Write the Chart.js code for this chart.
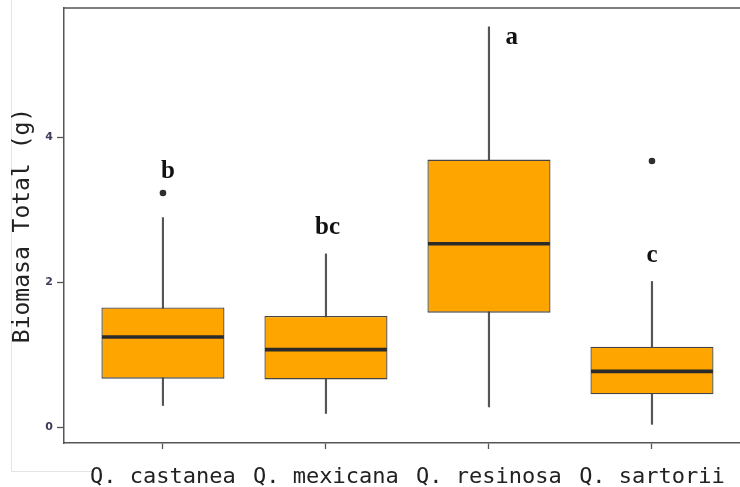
<!DOCTYPE html>
<html>
<head>
<meta charset="utf-8">
<script src="https://cdn.jsdelivr.net/npm/chart.js@4/dist/chart.umd.min.js"></script>
<style>
  html, body { margin: 0; padding: 0; background: #ffffff; overflow: hidden; }
  canvas { display: block; }
</style>
</head>
<body>
<canvas id="chart" width="740" height="487"></canvas>
<script>
// Species (x categories)
const categories = ['Q. castanea', 'Q. mexicana', 'Q. resinosa', 'Q. sartorii'];

// Five-number summaries of total biomass (g) per species
const whiskerLow  = [0.30, 0.19, 0.28, 0.04];
const quartile1   = [0.67, 0.66, 1.58, 0.455];
const medians     = [1.245, 1.07, 2.53, 0.77];
const quartile3   = [1.65, 1.535, 3.69, 1.11];
const whiskerHigh = [2.89, 2.39, 5.52, 2.01];

// Outlying observations: [species index (1-based), value]
const outlierSpecies = [1, 4];
const outlierValues  = [3.23, 3.67];

// Significance groups and where each letter sits (x in category units, y in g)
const groupLetters = ['b', 'bc', 'a', 'c'];
const letterX = [1.03, 2.01, 3.14, 4.0];
const letterY = [3.52, 2.76, 5.37, 2.37];

// Y-axis tick values
const yTicks = [0, 2, 4];

const positions = categories.map((_, i) => i + 1);

const whiskerData = positions.map((x, i) => ({ x, y: [whiskerLow[i], whiskerHigh[i]] }));
const boxData = positions.map((x, i) => ({ x, y: [quartile1[i], quartile3[i]] }));
const outlierData = outlierSpecies.map((s, i) => ({ x: s, y: outlierValues[i] }));

// Draws the panel's top rule, the medians and the group letters
const boxExtras = {
  id: 'boxExtras',
  beforeDraw(chart) {
    const { ctx } = chart;
    ctx.save();
    ctx.strokeStyle = '#e4e4e4';
    ctx.lineWidth = 1;
    ctx.beginPath();
    ctx.moveTo(11.5, 0);
    ctx.lineTo(11.5, 471.5);
    ctx.lineTo(92, 471.5);
    ctx.stroke();
    ctx.restore();
  },
  afterDatasetsDraw(chart) {
    const { ctx, chartArea, scales } = chart;
    const boxMeta = chart.getDatasetMeta(1);
    ctx.save();
    // medians
    ctx.strokeStyle = '#2b2b2b';
    ctx.lineWidth = 3.6;
    boxMeta.data.forEach((bar, i) => {
      const half = bar.width / 2;
      const y = scales.y.getPixelForValue(medians[i]);
      ctx.beginPath();
      ctx.moveTo(bar.x - half + 0.6, y);
      ctx.lineTo(bar.x + half - 0.6, y);
      ctx.stroke();
    });
    // letters
    ctx.fillStyle = '#111111';
    ctx.font = 'bold 25px "Liberation Serif", "Times New Roman", serif';
    ctx.textAlign = 'center';
    ctx.textBaseline = 'middle';
    groupLetters.forEach((t, i) => {
      ctx.fillText(t, scales.x.getPixelForValue(letterX[i]), scales.y.getPixelForValue(letterY[i]));
    });
    // top rule of the panel
    ctx.strokeStyle = '#555555';
    ctx.lineWidth = 1.5;
    ctx.beginPath();
    ctx.moveTo(chartArea.left, chartArea.top);
    ctx.lineTo(chartArea.right, chartArea.top);
    ctx.stroke();
    ctx.restore();
  }
};

new Chart(document.getElementById('chart'), {
  type: 'bar',
  data: {
    datasets: [
      {
        type: 'scatter',
        data: outlierData,
        pointRadius: 3.3,
        pointBackgroundColor: '#2e2e2e',
        pointBorderWidth: 0,
        order: 0
      },
      {
        data: boxData,
        backgroundColor: '#FFA500',
        borderColor: '#454545',
        borderWidth: 1.3,
        borderSkipped: false,
        grouped: false,
        categoryPercentage: 1,
        barPercentage: 0.755,
        order: 1
      },
      {
        data: whiskerData,
        backgroundColor: '#555555',
        borderWidth: 0,
        grouped: false,
        barThickness: 1.5,
        order: 3
      }
    ]
  },
  options: {
    responsive: false,
    devicePixelRatio: 1,
    animation: false,
    layout: { autoPadding: false, padding: { top: 8, left: 0, right: 0, bottom: 0 } },
    plugins: { legend: { display: false }, tooltip: { enabled: false } },
    scales: {
      x: {
        type: 'linear',
        offset: false,
        min: 0.393,
        max: 4.54,
        afterBuildTicks: (s) => { s.ticks = positions.map(v => ({ value: v })); },
        afterFit: (s) => { s.height = 44; s.paddingLeft = 0; s.paddingRight = 0; },
        ticks: {
          autoSkip: false,
          maxRotation: 0,
          padding: 15,
          color: '#222222',
          font: { family: '"DejaVu Sans Mono", monospace', size: 22 },
          callback: (v) => categories[Math.round(v) - 1] || ''
        },
        grid: {
          offset: false,
          drawOnChartArea: false,
          drawTicks: true,
          tickLength: 6,
          tickColor: '#555555',
          tickWidth: 1.3
        },
        border: { display: true, color: '#555555', width: 1.5 }
      },
      y: {
        min: -0.217,
        max: 5.78,
        afterBuildTicks: (s) => { s.ticks = yTicks.map(v => ({ value: v })); },
        afterFit: (s) => { s.width = 64; s.paddingTop = 0; s.paddingBottom = 0; },
        ticks: {
          padding: 4,
          color: '#3c3c5a',
          font: { family: '"DejaVu Sans", sans-serif', size: 11, weight: 'bold' }
        },
        grid: {
          drawOnChartArea: false,
          drawTicks: true,
          tickLength: 7,
          tickColor: '#555555',
          tickWidth: 1.3
        },
        border: { display: true, color: '#555555', width: 1.5 },
        title: {
          display: true,
          text: 'Biomasa Total (g)',
          color: '#222222',
          font: { family: '"DejaVu Sans Mono", monospace', size: 23 },
          padding: { top: 9, bottom: 0 }
        }
      }
    }
  },
  plugins: [boxExtras]
});
</script>
</body>
</html>
